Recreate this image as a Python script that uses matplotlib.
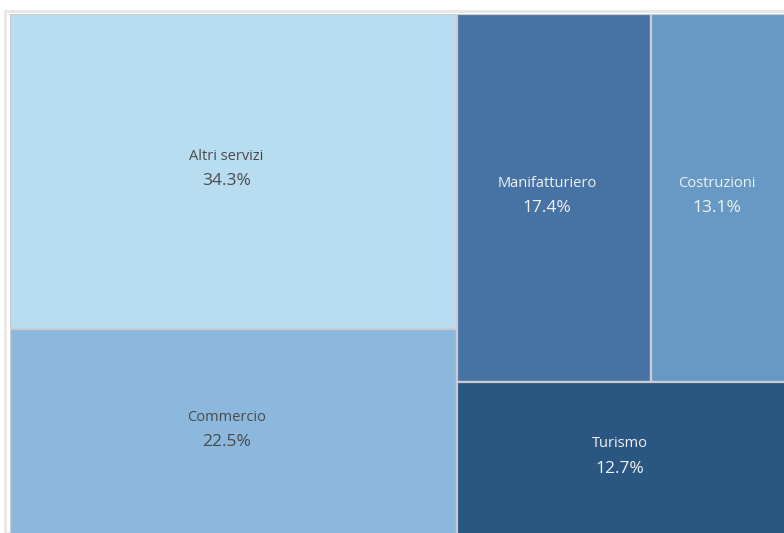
import matplotlib
matplotlib.use("Agg")
import matplotlib.pyplot as plt
from matplotlib.patches import Rectangle

# settori e quote (%)
left_names = ["Altri servizi", "Commercio"]
left_values = [34.3, 22.5]
top_right_names = ["Manifatturiero", "Costruzioni"]
top_right_values = [17.4, 13.1]
bottom_right_names = ["Turismo"]
bottom_right_values = [12.7]

colors = {
    "Altri servizi": "#b9ddf0",
    "Commercio": "#8bb8dc",
    "Manifatturiero": "#4672a4",
    "Costruzioni": "#6799c4",
    "Turismo": "#2a5682",
}
text_colors = {
    "Altri servizi": "#4a4a4a",
    "Commercio": "#4a4a4a",
    "Manifatturiero": "#f2f2f2",
    "Costruzioni": "#f2f2f2",
    "Turismo": "#f2f2f2",
}

plt.rcParams['font.family'] = ['Open Sans', 'DejaVu Sans']

fig = plt.figure(figsize=(7.84, 5.33), dpi=100)
fig.patch.set_facecolor("white")

# the treemap runs slightly past the right and bottom edge of the picture
W, H = 784, 533
ax = fig.add_axes([10 / W, (H - 535) / H, 787 / W, 521 / H])
ax.set_xlim(0, 1)
ax.set_ylim(1, 0)
ax.axis("off")

total = sum(left_values) + sum(top_right_values) + sum(bottom_right_values)
right_total = sum(top_right_values) + sum(bottom_right_values)

rects = []
# left column, stacked vertically
lw = sum(left_values) / total
y = 0
for n, v in zip(left_names, left_values):
    h = v / sum(left_values)
    rects.append((n, v, 0, y, lw, h))
    y += h

# right column: a row on top, one block below
top_h = sum(top_right_values) / right_total
x = lw
for n, v in zip(top_right_names, top_right_values):
    w = (1 - lw) * v / sum(top_right_values)
    rects.append((n, v, x, 0, w, top_h))
    x += w
x = lw
for n, v in zip(bottom_right_names, bottom_right_values):
    w = (1 - lw) * v / sum(bottom_right_values)
    rects.append((n, v, x, top_h, w, 1 - top_h))
    x += w

for n, v, x0, y0, w, h in rects:
    ax.add_patch(Rectangle((x0, y0), w, h, facecolor=colors[n],
                           edgecolor="#c9ccd0", linewidth=1.6))
    cx = x0 + w / 2 - 0.009
    cy = y0 + h / 2 - 0.006
    ax.text(cx, cy - 0.008, n, ha="center", va="bottom",
            fontsize=10.5, color=text_colors[n])
    ax.text(cx, cy + 0.010, "{:.1f}%".format(v), ha="center", va="top",
            fontsize=12.5, color=text_colors[n])

# faint frame around the chart area
fig.add_artist(Rectangle((5 / W, 0), 1, 1 - 11 / H, transform=fig.transFigure,
                         facecolor="none", edgecolor="#e6e6e6", linewidth=2,
                         zorder=-1))

fig.savefig("out.png", dpi=100)
